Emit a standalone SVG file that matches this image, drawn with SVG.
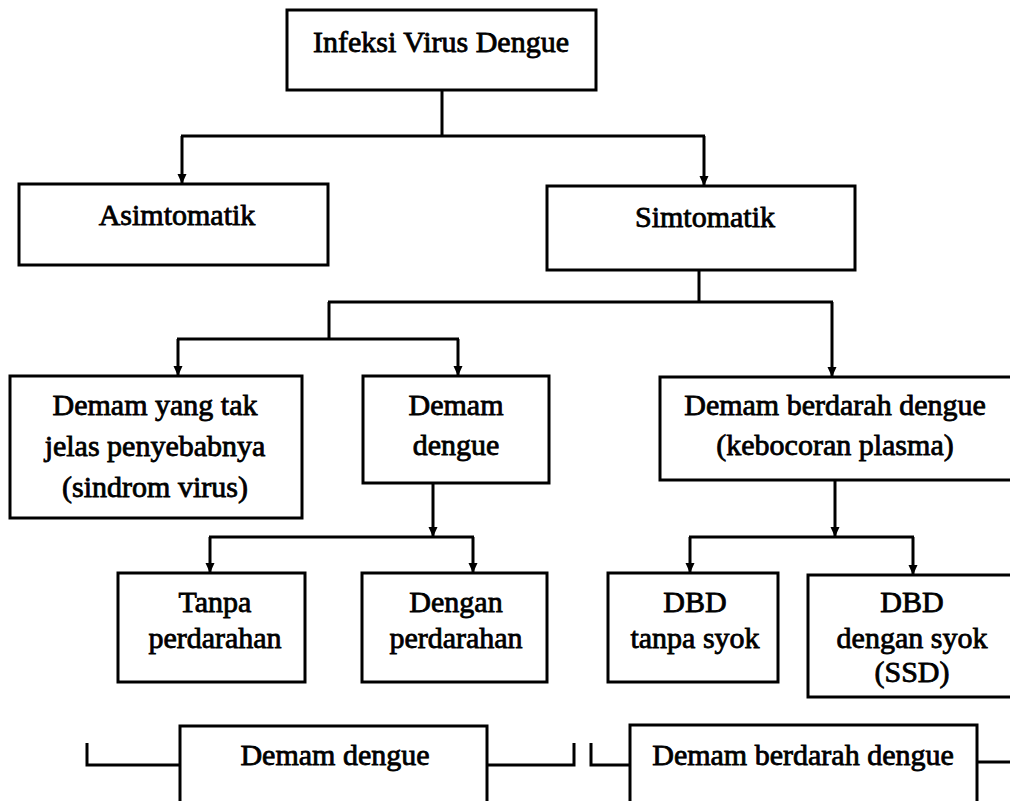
<svg xmlns="http://www.w3.org/2000/svg" width="1010" height="801" viewBox="0 0 1010 801">
<style>
.box{fill:#fff;stroke:#000;stroke-width:3}
.t{font-family:"Liberation Serif","Times New Roman",serif;font-size:30px;fill:#000;stroke:#000;stroke-width:0.8;text-anchor:middle}
.c{fill:none;stroke:#000;stroke-width:3}
</style>
<defs>
<marker id="ah" markerUnits="userSpaceOnUse" markerWidth="12" markerHeight="12" viewBox="0 0 12 12" refX="11" refY="6" orient="auto">
<path d="M1,1.5 L11,6 L1,10.5 Z" fill="#000"/>
</marker>
</defs>
<rect width="1010" height="801" fill="#fff"/>
<g id="connectors">
<path class="c" d="M442,90 V136 M181,136 H705"/>
<path class="c" d="M182,136 V184" marker-end="url(#ah)"/>
<path class="c" d="M704,136 V186" marker-end="url(#ah)"/>
<path class="c" d="M699,270 V302 M328,302 H833 M329,302 V339 M177,339 H459"/>
<path class="c" d="M178,339 V376" marker-end="url(#ah)"/>
<path class="c" d="M458,339 V376" marker-end="url(#ah)"/>
<path class="c" d="M832,302 V377" marker-end="url(#ah)"/>
<path class="c" d="M433,483 V537" marker-end="url(#ah)"/>
<path class="c" d="M209,537 H474"/>
<path class="c" d="M210,537 V573" marker-end="url(#ah)"/>
<path class="c" d="M473,537 V573" marker-end="url(#ah)"/>
<path class="c" d="M835,480 V537" marker-end="url(#ah)"/>
<path class="c" d="M689,537 H914"/>
<path class="c" d="M690,537 V573" marker-end="url(#ah)"/>
<path class="c" d="M913,537 V575" marker-end="url(#ah)"/>
<path class="c" d="M87,743 V765 H180 M487,765 H574 V743 M591,743 V765 H630 M977,762 H1012"/>
</g>
<g id="n-infeksi"><rect class="box" x="287" y="10" width="309" height="80"/><text class="t" x="441" y="52">Infeksi Virus Dengue</text></g>
<g id="n-asimtomatik"><rect class="box" x="19" y="184" width="309" height="81"/><text class="t" x="177" y="225">Asimtomatik</text></g>
<g id="n-simtomatik"><rect class="box" x="547" y="186" width="308" height="84"/><text class="t" x="705" y="227">Simtomatik</text></g>
<g id="n-demam-tak-jelas"><rect class="box" x="10" y="376" width="292" height="142"/><text class="t" x="155" y="415">Demam yang tak</text><text class="t" x="155" y="456">jelas penyebabnya</text><text class="t" x="155" y="497">(sindrom virus)</text></g>
<g id="n-demam-dengue"><rect class="box" x="363" y="376" width="186" height="107"/><text class="t" x="456" y="415">Demam</text><text class="t" x="456" y="455">dengue</text></g>
<g id="n-dbd"><rect class="box" x="660" y="377" width="353" height="103"/><text class="t" x="835" y="415">Demam berdarah dengue</text><text class="t" x="835" y="455">(kebocoran plasma)</text></g>
<g id="n-tanpa-perdarahan"><rect class="box" x="118" y="573" width="187" height="109"/><text class="t" x="215" y="612">Tanpa</text><text class="t" x="215" y="648">perdarahan</text></g>
<g id="n-dengan-perdarahan"><rect class="box" x="362" y="573" width="185" height="109"/><text class="t" x="456" y="612">Dengan</text><text class="t" x="456" y="648">perdarahan</text></g>
<g id="n-dbd-tanpa-syok"><rect class="box" x="608" y="573" width="170" height="109"/><text class="t" x="695" y="612">DBD</text><text class="t" x="695" y="648">tanpa syok</text></g>
<g id="n-dbd-dengan-syok"><rect class="box" x="808" y="575" width="205" height="122"/><text class="t" x="912" y="612">DBD</text><text class="t" x="912" y="648">dengan syok</text><text class="t" x="912" y="682">(SSD)</text></g>
<g id="n-bottom-dd"><rect class="box" x="180" y="726" width="307" height="80"/><text class="t" x="335" y="765">Demam dengue</text></g>
<g id="n-bottom-dbd"><rect class="box" x="630" y="725" width="347" height="80"/><text class="t" x="803" y="765">Demam berdarah dengue</text></g>
</svg>
